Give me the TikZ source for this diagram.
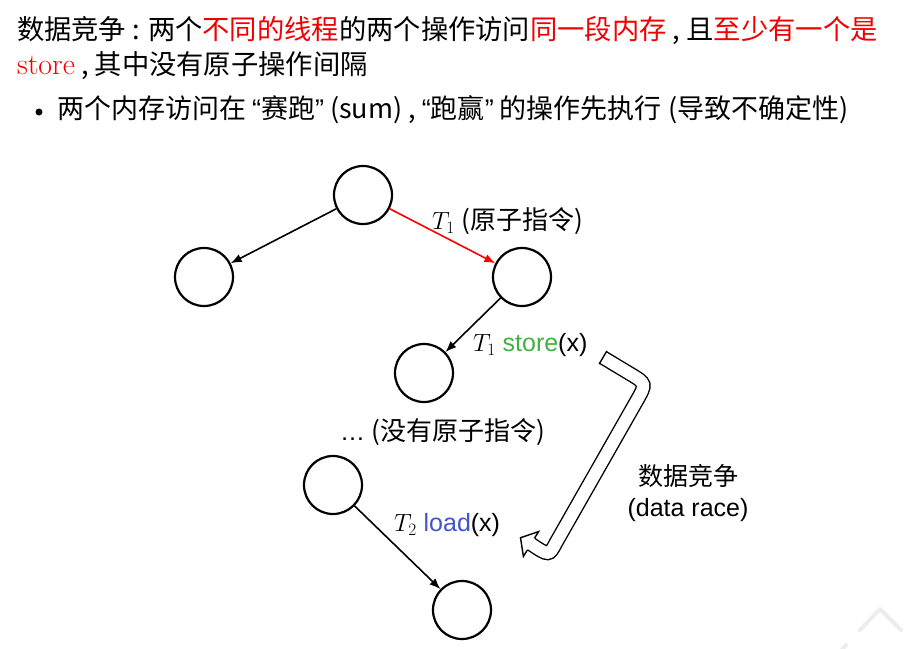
\documentclass[tikz,border=0pt]{standalone}
\usepackage{fontspec}
\newfontfamily\cjk{Noto Sans CJK SC}
\newfontfamily\lib{Liberation Sans}
\usetikzlibrary{arrows.meta}
\definecolor{storegreen}{RGB}{64,178,64}
\definecolor{loadblue}{RGB}{66,84,200}
\definecolor{hlred}{RGB}{240,0,0}
\newcommand{\tm}[1]{{\fontsize{27}{31}\selectfont$#1$}}
\begin{document}
\begin{tikzpicture}[x=1pt,y=-1pt,
  every node/.style={inner sep=0pt, outer sep=0pt},
  state/.style={circle, draw, line width=2.2pt, minimum size=58pt, outer sep=1pt},
  edge/.style={line width=1.6pt, -{Latex[length=11pt,width=8.5pt]}},
  lbl/.style={font=\lib\fontsize{25}{31}\selectfont, anchor=west},
  toptext/.style={font=\cjk\fontsize{27.3}{30}\selectfont, anchor=west},
  bullettext/.style={font=\cjk\fontsize{27}{30}\selectfont, anchor=west},
  band/.style={line width=1.4pt, line join=miter}]
\useasboundingbox (0,0) rectangle (905,648);

% heading text
\node[toptext] (h1) at (17,31) {数据竞争 : 两个\textcolor{hlred}{不同的线程}的两个操作访问\textcolor{hlred}{同一段内存} , 且\textcolor{hlred}{至少有一个是}};
\node[toptext] (h2) at (17,66) {\textcolor{hlred}{\rmfamily\fontsize{30}{32}\selectfont store} , 其中没有原子操作间隔};
\fill (39,112) circle (3.5);
\node[bullettext] (h3) at (57,110) {两个内存访问在 {\lib“}赛跑{\lib”} (sum) , {\lib“}跑赢{\lib”} 的操作先执行 (导致不确定性)};

% states
\node[state] (a) at (363,195) {};
\node[state] (b) at (204,277) {};
\node[state] (c) at (522,277) {};
\node[state] (d) at (424,373) {};
\node[state] (e) at (333,485) {};
\node[state] (f) at (462,610) {};

\draw[edge] (a) -- (b);
\draw[edge, red] (a) -- (c);
\draw[edge] (c) -- (d);
\draw[edge] (e) -- (f);

% labels
\node[lbl] (l1) at (432,221) {\tm{T_1} {\cjk\fontsize{26}{31}\selectfont(原子指令)}};
\node[lbl] (l2) at (473,345) {\tm{T_1} \textcolor{storegreen}{store}(x)};
\node[lbl] (l3) at (340,432) {… {\cjk\fontsize{26}{31}\selectfont(没有原子指令)}};
\node[lbl] (l4) at (394,525) {\tm{T_2} \textcolor{loadblue}{load}(x)};
\node[lbl, anchor=center, align=center] (l5) at (688,493) {{\cjk 数据竞争}\\(data race)};

% hollow race arrow
\coordinate (S) at (603,357.5);
\coordinate (P1) at (629.4,373.4);
\coordinate (C1) at (646.5,383.6);
\coordinate (P2) at (636.6,401.0);
\coordinate (P3) at (555.9,542.8);
\coordinate (C2) at (549,556);
\coordinate (E) at (531,544);
\draw[line width=1.4pt, double=white, double distance=12pt]
  (S) -- (P1) .. controls (C1) .. (P2) -- (P3) .. controls (C2) .. (E);
\draw[band] (599.1,364.1) -- (606.9,350.9);
\draw[band, fill=white]
  (534.5,538.2) -- (538.6,531.6) -- (520.5,537.7) -- (523.4,556.4) -- (527.5,549.8);

% faint watermark
\draw[black!7, line width=4pt, line cap=round, line join=round]
  (860,630) -- (880,609) -- (901,630);
\draw[black!7, line width=4pt, line cap=round] (840,652) -- (846,645);
\end{tikzpicture}
\end{document}
